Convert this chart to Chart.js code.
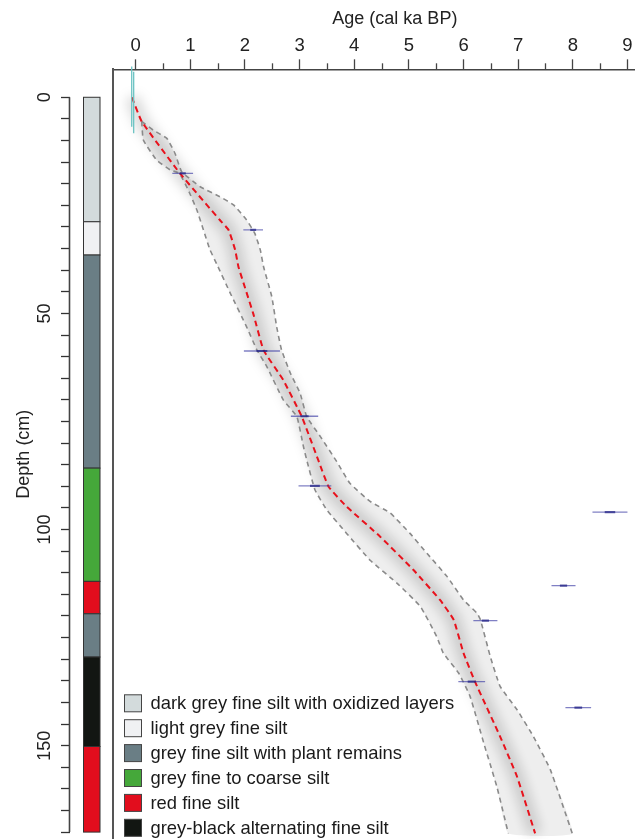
<!DOCTYPE html>
<html>
<head>
<meta charset="utf-8">
<script src="https://cdn.jsdelivr.net/npm/chart.js@4.4.1/dist/chart.umd.min.js"></script>
<style>
  html, body { margin: 0; padding: 0; background: #fff; overflow: hidden; }
  #wrap { width: 635px; height: 839px; position: relative; overflow: hidden; }
  #ageDepth { display: block; }
</style>
</head>
<body>
<div id="wrap"><canvas id="ageDepth" width="677" height="839"></canvas></div>
<script>
// median age-depth model (cal ka BP / cm)
const medianAge   = [-0.07, 0.11, 0.81, 1.54, 1.70, 1.82, 1.88, 2.15, 2.34, 2.70, 3.04, 3.34, 3.53, 3.86, 4.47, 5.08, 5.57, 5.82, 6.00, 6.21, 6.67, 6.98, 7.31];
const medianDepth = [0, 5.6, 17.6, 28.4, 30.7, 35.3, 39.2, 50, 58.5, 65.4, 73.9, 83.9, 90.1, 94.7, 101.6, 109.3, 116.3, 120.9, 128.6, 135.2, 147.9, 157.2, 170.3];

// 95% range, young side
const lowerAge   = [0.11, 0.14, 0.38, 0.63, 0.80, 0.96, 1.12, 1.24, 1.36, 1.48, 1.73, 2.03, 2.22, 2.40, 2.70, 2.95, 3.07, 3.13, 3.28, 3.50, 3.86, 4.29, 4.78, 5.21, 5.51, 5.63, 5.91, 6.12, 6.37, 6.61, 6.82];
const lowerDepth = [5.6, 9.9, 14.5, 16.8, 17.6, 21.4, 26.1, 30.7, 35.3, 38.5, 45.3, 53.1, 58.5, 62.3, 70.0, 73.9, 80.8, 83.9, 90.8, 95.5, 100.9, 107.1, 112.4, 117.8, 124.8, 128.6, 133.2, 138.6, 149.4, 159.5, 170.3];

// 95% range, old side
const upperAge   = [0.11, 0.32, 0.57, 0.72, 0.84, 1.18, 1.54, 1.79, 2.03, 2.18, 2.28, 2.34, 2.49, 2.58, 2.67, 2.83, 3.01, 3.13, 3.38, 3.68, 3.92, 4.29, 4.66, 5.02, 5.33, 5.70, 6.00, 6.25, 6.31, 6.49, 6.67, 6.98, 7.28, 7.59, 7.99];
const upperDepth = [5.6, 7.6, 9.5, 13.0, 17.2, 20.7, 23.0, 24.9, 28.4, 31.5, 35.3, 39.2, 46.1, 53.1, 58.5, 63.8, 68.5, 73.9, 78.5, 84.3, 89.3, 93.5, 96.2, 100.9, 105.5, 110.9, 116.3, 119.4, 120.9, 129.4, 136.3, 141.7, 147.9, 155.6, 170.3];

// calibrated dates
const dateAge   = [0.86, 2.15, 2.31, 3.09, 3.28, 8.68, 7.83, 6.40, 6.15, 8.10];
const dateDepth = [17.6, 30.7, 58.7, 73.8, 89.9, 96.0, 113.0, 121.1, 135.2, 141.2];
const dateErr   = [0.19, 0.18, 0.33, 0.25, 0.30, 0.32, 0.22, 0.22, 0.245, 0.235];

// surface age markers
const surfaceAge   = [-0.073, -0.037];
const surfaceTop   = [-7.1, -5.9];
const surfaceBase  = [6.8, 8.3];

// lithology
const lithBounds = [0, 28.8, 36.5, 85.8, 112, 119.5, 129.5, 150.2, 170];
const lithUnit   = [0, 1, 2, 3, 4, 2, 5, 4];
const lithNames  = ['dark grey fine silt with oxidized layers', 'light grey fine silt', 'grey fine silt with plant remains', 'grey fine to coarse silt', 'red fine silt', 'grey-black alternating fine silt'];
const lithColors = ['#d3dbdc', '#f0f1f3', '#6a7e85', '#45a83a', '#e20d1d', '#121612'];

// axes
const ageTicks      = [0, 1, 2, 3, 4, 5, 6, 7, 8, 9];
const ageMinorTicks = [0.5, 1.5, 2.5, 3.5, 4.5, 5.5, 6.5, 7.5, 8.5, 9.5];
const depthTicks    = [0, 5, 10, 15, 20, 25, 30, 35, 40, 45, 50, 55, 60, 65, 70, 75, 80, 85, 90, 95, 100, 105, 110, 115, 120, 125, 130, 135, 140, 145, 150, 155, 160, 165, 170];
const depthLabels   = [0, 50, 100, 150];

const pts = (xs, ys) => xs.map((v, i) => ({ x: v, y: ys[i] }));

const datasets = [];
dateAge.forEach((a, i) => {
  datasets.push({ data: [{ x: a - dateErr[i] * 0.3, y: dateDepth[i] }, { x: a + dateErr[i] * 0.3, y: dateDepth[i] }],
    borderColor: 'rgba(30,30,130,0.7)', borderWidth: 2.2 });
  datasets.push({ data: [{ x: a - dateErr[i], y: dateDepth[i] }, { x: a + dateErr[i], y: dateDepth[i] }],
    borderColor: 'rgba(60,60,165,0.65)', borderWidth: 1.3 });
});
surfaceAge.forEach((a, i) => {
  datasets.push({ data: [{ x: a, y: surfaceTop[i] }, { x: a, y: surfaceBase[i] }],
    borderColor: '#6cc3c3', borderWidth: 1.3, clip: false });
});
datasets.push({ data: pts(medianAge, medianDepth), borderColor: '#e8121c', borderWidth: 2, borderDash: [6, 4], tension: 0.12 });
datasets.push({ data: pts(lowerAge, lowerDepth), borderColor: '#8a8a8a', borderWidth: 1.6, borderDash: [5, 4], tension: 0.12 });
datasets.push({ data: pts(upperAge, upperDepth), borderColor: '#8a8a8a', borderWidth: 1.6, borderDash: [5, 4], tension: 0.12 });
datasets.push({ data: pts(medianAge, medianDepth), borderColor: 'rgba(0,0,0,0.15)', borderWidth: 14, tension: 0.12, blur: 6 });
datasets.push({ data: pts(lowerAge, lowerDepth).concat(pts(upperAge, upperDepth).reverse()),
  borderWidth: 0, borderColor: 'rgba(0,0,0,0)', backgroundColor: 'rgba(0,0,0,0.065)', fill: 'shape', tension: 0.12 });

const decor = {
  id: 'decor',
  beforeDatasetDraw(chart, args) {
    const ds = chart.data.datasets[args.index];
    if (ds.blur) { chart.ctx.save(); chart.ctx.filter = 'blur(' + ds.blur + 'px)'; }
  },
  afterDatasetDraw(chart, args) {
    if (chart.data.datasets[args.index].blur) chart.ctx.restore();
  },
  afterDraw(chart) {
    const { ctx, chartArea } = chart;
    const x = chart.scales.x, y = chart.scales.y;
    ctx.save();
    ctx.strokeStyle = '#444';
    ctx.lineWidth = 1.3;
    // minor age ticks
    ageMinorTicks.forEach(v => {
      const px = Math.round(x.getPixelForValue(v)) + 0.5;
      ctx.beginPath(); ctx.moveTo(px, chartArea.top); ctx.lineTo(px, chartArea.top - 6); ctx.stroke();
    });
    // depth axis line
    const ax = y.right - 0.5;
    ctx.lineWidth = 1.6;
    ctx.beginPath();
    ctx.moveTo(ax, y.getPixelForValue(depthTicks[0]));
    ctx.lineTo(ax, y.getPixelForValue(depthTicks[depthTicks.length - 1]));
    ctx.stroke();
    // lithology column
    const colX = y.right + 13.5, colW = 16.5;
    ctx.lineWidth = 1;
    ctx.strokeStyle = '#333';
    for (let i = 0; i < lithUnit.length; i++) {
      const t = y.getPixelForValue(lithBounds[i]);
      const b = y.getPixelForValue(lithBounds[i + 1]);
      ctx.fillStyle = lithColors[lithUnit[i]];
      ctx.fillRect(colX, t, colW, b - t);
      ctx.strokeRect(colX, t, colW, b - t);
    }
    // legend
    ctx.font = '18.4px "Liberation Sans", Arial, sans-serif';
    ctx.textBaseline = 'middle';
    ctx.textAlign = 'left';
    lithNames.forEach((name, i) => {
      const cy = 703.3 + i * 24.9;
      ctx.fillStyle = lithColors[i];
      ctx.fillRect(124.5, cy - 8.5, 17, 17);
      ctx.strokeStyle = '#444';
      ctx.strokeRect(124.5, cy - 8.5, 17, 17);
      ctx.fillStyle = '#1a1a1a';
      ctx.fillText(name, 150.5, cy + 1);
    });
    ctx.restore();
  }
};

Chart.defaults.font.family = '"Liberation Sans", Arial, sans-serif';
Chart.defaults.color = '#222';

new Chart(document.getElementById('ageDepth'), {
  type: 'scatter',
  data: { datasets },
  options: {
    responsive: false,
    animation: false,
    events: [],
    elements: { point: { radius: 0 }, line: { borderCapStyle: 'butt' } },
    datasets: { scatter: { showLine: true } },
    layout: { padding: 0 },
    plugins: { legend: { display: false }, tooltip: { enabled: false } },
    scales: {
      x: {
        type: 'linear', position: 'top', min: -0.421, max: 9.907,
        afterBuildTicks: s => { s.ticks = ageTicks.map(v => ({ value: v })); },
        afterFit: s => { s.height = 69.3; s.paddingLeft = 0; s.paddingRight = 0; },
        ticks: { font: { size: 18.5 }, color: '#222', padding: 2, autoSkip: false, maxRotation: 0, callback: v => String(v) },
        grid: { drawOnChartArea: false, tickLength: 10, color: '#444', tickWidth: 1.3 },
        border: { display: true, color: '#444', width: 1.6 },
        title: { display: true, text: 'Age (cal ka BP)', font: { size: 18 }, color: '#222', padding: { top: 8, bottom: 0 } }
      },
      y: {
        type: 'linear', position: 'left', reverse: true, min: -6.47, max: 171.6, weight: 1,
        afterBuildTicks: s => { s.ticks = depthTicks.map(v => ({ value: v })); },
        afterFit: s => { s.width = 70; s.paddingTop = 0; s.paddingBottom = 0; },
        ticks: { font: { size: 18 }, color: '#222', minRotation: 90, maxRotation: 90, crossAlign: 'center', padding: 1, autoSkip: false,
          callback: v => depthLabels.includes(v) ? String(v) : '' },
        grid: { drawOnChartArea: false, tickLength: 9, color: '#333', tickWidth: 1.3 },
        border: { display: false },
        title: { display: true, text: 'Depth (cm)', font: { size: 18 }, color: '#222', padding: { top: 13, bottom: 0 } }
      },
      frame: {
        axis: 'y', type: 'linear', position: 'left', weight: 0,
        afterFit: s => { s.width = 42.7; s.paddingTop = 0; s.paddingBottom = 0; },
        ticks: { display: false },
        grid: { display: false },
        border: { display: true, color: '#555', width: 2 }
      }
    }
  },
  plugins: [decor]
});
</script>
</body>
</html>
